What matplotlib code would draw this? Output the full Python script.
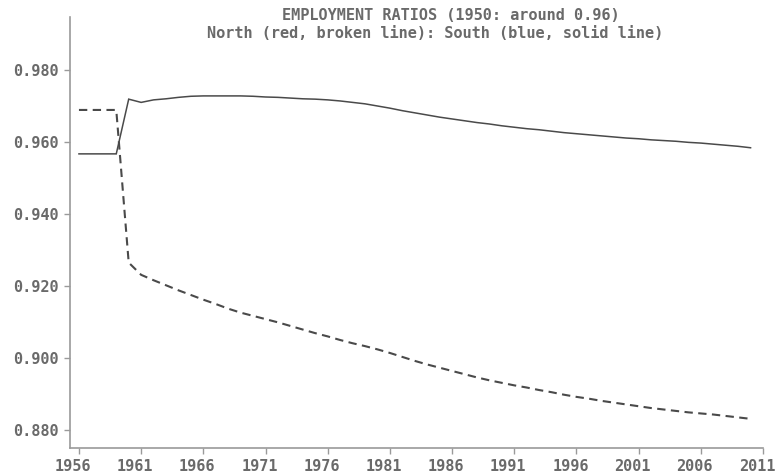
import matplotlib
matplotlib.use("Agg")
import matplotlib.pyplot as plt
from matplotlib.transforms import ScaledTranslation

years = list(range(1956, 2011))

south = [0.9567, 0.9567, 0.9567, 0.9567, 0.9719, 0.9710, 0.9717, 0.9720, 0.9724, 0.9727,
         0.9728, 0.9728, 0.9728, 0.9728, 0.9727, 0.9725, 0.9724, 0.9722, 0.9720, 0.9719,
         0.9717, 0.9714, 0.9710, 0.9706, 0.9700, 0.9694, 0.9687, 0.9681, 0.9675, 0.9669,
         0.9664, 0.9659, 0.9654, 0.9650, 0.9645, 0.9641, 0.9637, 0.9634, 0.9630, 0.9626,
         0.9623, 0.9620, 0.9617, 0.9614, 0.9611, 0.9609, 0.9606, 0.9604, 0.9602, 0.9599,
         0.9597, 0.9594, 0.9591, 0.9588, 0.9584]

north = [0.9689, 0.9689, 0.9689, 0.9689, 0.9265, 0.9231, 0.9216, 0.9202, 0.9188, 0.9175,
         0.9162, 0.9150, 0.9137, 0.9126, 0.9117, 0.9108, 0.9099, 0.9089, 0.9079, 0.9069,
         0.9060, 0.9050, 0.9041, 0.9033, 0.9024, 0.9014, 0.9003, 0.8992, 0.8982, 0.8973,
         0.8964, 0.8955, 0.8946, 0.8938, 0.8931, 0.8924, 0.8918, 0.8911, 0.8905, 0.8898,
         0.8892, 0.8887, 0.8881, 0.8876, 0.8871, 0.8866, 0.8861, 0.8857, 0.8853, 0.8849,
         0.8846, 0.8843, 0.8839, 0.8835, 0.8831]

xticks = [1956, 1961, 1966, 1971, 1976, 1981, 1986, 1991, 1996, 2001, 2006, 2011]
yticks = [0.880, 0.900, 0.920, 0.940, 0.960, 0.980]
ytick_labels = ["0.880", "0.900", "0.920", "0.940", "0.960", "0.980"]

title1 = "EMPLOYMENT RATIOS (1950: around 0.96)"
title2 = "North (red, broken line): South (blue, solid line)"

W, H = 776, 475
fig = plt.figure(figsize=(W / 100, H / 100), dpi=100)
ax = fig.add_axes([70 / W, 1 - 448 / H, (763 - 70) / W, (448 - 17) / H])

txt_color = "#6a6a6a"
line_color = "#4a4a4a"
font = dict(family="DejaVu Sans Mono", fontsize=11, fontweight="bold", color=txt_color)

ax.plot(years, south, color=line_color, lw=1.1, solid_joinstyle="miter")
ax.plot(years, north, color=line_color, lw=1.5, dashes=(4, 2.6))

ax.set_xlim(1955.28, 2011)
ax.set_ylim(0.875, 0.99472)

for s in ["top", "right"]:
    ax.spines[s].set_visible(False)
for s in ["left", "bottom"]:
    ax.spines[s].set_color("#9a9a9a")
    ax.spines[s].set_linewidth(1.2)

ax.set_xticks(xticks)
ax.set_xticklabels([str(x) for x in xticks])
ax.set_yticks(yticks)
ax.set_yticklabels(ytick_labels)
ax.tick_params(direction="out", length=4, width=1, color="#9a9a9a", pad=4)
shift = ScaledTranslation(-6 / 100, 0, fig.dpi_scale_trans)
for lab in ax.get_xticklabels():
    lab.set_transform(lab.get_transform() + shift)
for lab in ax.get_xticklabels() + ax.get_yticklabels():
    lab.set_family("DejaVu Sans Mono")
    lab.set_fontsize(11)
    lab.set_fontweight("bold")
    lab.set_color(txt_color)

fig.text(451 / W, 1 - 16 / H, title1, ha="center", va="center", **font)
fig.text(435 / W, 1 - 33 / H, title2, ha="center", va="center", **font)

fig.savefig("out.png", dpi=100)
